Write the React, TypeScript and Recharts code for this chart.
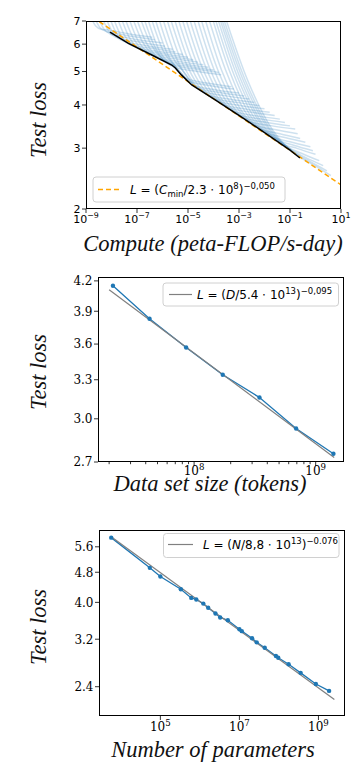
import { LineChart, Line, XAxis, YAxis } from 'recharts'

// ---- top panel: learning curves vs compute ----
const runCompute = [
  [1e-9, 2.4e-9, 3.9e-9, 6.3e-9, 5e-8, 4e-7],
  [1.4e-9, 3.5e-9, 6.3e-9, 1e-8, 7.9e-8, 5e-7],
  [2e-9, 5.1e-9, 8.9e-9, 1.6e-8, 1.26e-7, 1e-6],
  [2.8e-9, 7.6e-9, 1.38e-8, 2.5e-8, 2e-7, 1.26e-6],
  [4e-9, 1.1e-8, 2.1e-8, 4e-8, 3.2e-7, 2.5e-6],
  [5.6e-9, 1.6e-8, 3.2e-8, 6.3e-8, 5e-7, 3.2e-6],
  [7.9e-9, 2.3e-8, 4.8e-8, 1e-7, 7.9e-7, 6.3e-6],
  [1.12e-8, 3.4e-8, 7.4e-8, 1.6e-7, 1.26e-6, 1e-5],
  [1.6e-8, 5e-8, 1.1e-7, 2.5e-7, 2e-6, 1.6e-5],
  [2.2e-8, 7.4e-8, 1.7e-7, 4e-7, 3.2e-6, 2.5e-5],
  [3.2e-8, 1.07e-7, 2.6e-7, 6.3e-7, 5e-6, 4e-5],
  [4.5e-8, 1.6e-7, 4e-7, 1e-6, 7.9e-6, 6.3e-5],
  [6.3e-8, 2.3e-7, 6e-7, 1.6e-6, 1.26e-5, 1e-4],
  [8.9e-8, 3.5e-7, 1e-6, 2.5e-6, 2e-5, 1.6e-4],
  [1.26e-7, 4.6e-7, 1.2e-6, 3.2e-6, 2.5e-5, 2e-4],
  [1.8e-7, 7.9e-7, 2.8e-6, 7.9e-6, 6.3e-5, 5e-4],
  [2.5e-7, 1.05e-6, 3.55e-6, 6.3e-6, 1e-5, 7.9e-5, 6.3e-4],
  [3.5e-7, 1.6e-6, 5e-6, 1.6e-5, 1.26e-4, 1e-3],
  [5e-7, 2.2e-6, 7.4e-6, 2.5e-5, 2e-4, 1.6e-3],
  [7.1e-7, 3.2e-6, 1.12e-5, 4e-5, 3.2e-4, 2.5e-3],
  [1e-6, 4.8e-6, 1.74e-5, 6.3e-5, 5e-4, 4e-3],
  [1.4e-6, 7.1e-6, 2.6e-5, 1e-4, 7.9e-4, 6.3e-3],
  [2e-6, 1.02e-5, 4e-5, 1.6e-4, 1.26e-3, 1e-2],
  [2.8e-6, 1.5e-5, 6.3e-5, 2.5e-4, 2e-3, 1.6e-2],
  [4e-6, 2.2e-5, 9.3e-5, 4e-4, 3.2e-3, 2.5e-2],
  [5.6e-6, 3.2e-5, 1.4e-4, 6.3e-4, 5e-3, 4e-2],
  [7.9e-6, 4.7e-5, 2.1e-4, 1e-3, 7.9e-3, 6.3e-2],
  [1.12e-5, 6.8e-5, 3.3e-4, 1.6e-3, 1.26e-2, 1e-1],
  [1.6e-5, 1e-4, 5e-4, 2.5e-3, 2e-2, 1.6e-1],
  [2.2e-5, 1.45e-4, 7.9e-4, 4e-3, 2.8e-2, 2e-1],
  [3.2e-5, 2.1e-4, 1.17e-3, 6.3e-3, 4e-2, 2.5e-1],
  [4.5e-5, 3.2e-4, 1.8e-3, 1e-2, 6.3e-2, 4e-1],
  [6.3e-5, 4.6e-4, 2.7e-3, 1.6e-2, 1e-1, 6.3e-1],
  [7.9e-5, 6.3e-4, 4e-3, 2.5e-2, 1.4e-1, 7.9e-1],
  [1e-4, 8.3e-4, 5.8e-3, 4e-2, 2e-1, 1],
  [1.2e-4, 1.07e-3, 7.9e-3, 6e-2, 2.8e-1, 1.4],
  [1.4e-4, 1.35e-3, 1.1e-2, 8.9e-2, 4e-1, 2],
  [1.66e-4, 1.7e-3, 1.5e-2, 1.32e-1, 6.3e-1, 2.8],
  [2e-4, 2.2e-3, 2.1e-2, 2e-1, 1, 4],
]
const runLoss = [
  [7.8, 6.77, 6.63, 6.6, 6.42, 6.28],
  [7.8, 6.7, 6.53, 6.48, 6.3, 6.18],
  [7.8, 6.63, 6.42, 6.35, 6.17, 6.05],
  [7.8, 6.56, 6.3, 6.22, 6.05, 5.92],
  [7.8, 6.49, 6.19, 6.09, 5.92, 5.8],
  [7.8, 6.43, 6.1, 5.98, 5.82, 5.7],
  [7.8, 6.37, 6.01, 5.88, 5.71, 5.6],
  [7.8, 6.32, 5.92, 5.78, 5.62, 5.5],
  [7.8, 6.27, 5.84, 5.69, 5.53, 5.41],
  [7.8, 6.21, 5.76, 5.59, 5.44, 5.32],
  [7.8, 6.16, 5.68, 5.5, 5.34, 5.23],
  [7.8, 6.11, 5.6, 5.4, 5.25, 5.14],
  [7.8, 6.06, 5.51, 5.31, 5.16, 5.05],
  [7.8, 6.0, 5.43, 5.22, 5.08, 4.97],
  [7.8, 5.97, 5.36, 5.14, 5.0, 4.89],
  [7.8, 5.7, 5.16, 4.79, 4.62, 4.52],
  [7.8, 5.75, 5.12, 4.88, 4.7, 4.55, 4.45],
  [7.8, 5.6, 4.98, 4.57, 4.42, 4.33],
  [7.8, 5.6, 4.95, 4.47, 4.34, 4.25],
  [7.8, 5.55, 4.72, 4.38, 4.25, 4.16],
  [7.8, 5.49, 4.62, 4.28, 4.15, 4.07],
  [7.8, 5.44, 4.54, 4.19, 4.07, 3.98],
  [7.8, 5.39, 4.46, 4.1, 3.98, 3.9],
  [7.8, 5.35, 4.38, 4.01, 3.89, 3.81],
  [7.8, 5.3, 4.31, 3.93, 3.81, 3.73],
  [7.8, 5.25, 4.23, 3.84, 3.72, 3.64],
  [7.8, 5.2, 4.16, 3.75, 3.64, 3.56],
  [7.8, 5.15, 4.08, 3.67, 3.56, 3.48],
  [7.8, 5.11, 4.02, 3.59, 3.48, 3.41],
  [7.8, 5.07, 3.95, 3.51, 3.39, 3.3],
  [7.8, 5.03, 3.88, 3.43, 3.3, 3.2],
  [7.8, 4.98, 3.81, 3.35, 3.22, 3.12],
  [7.8, 4.94, 3.74, 3.27, 3.13, 3.03],
  [7.8, 4.9, 3.67, 3.2, 3.06, 2.95],
  [7.8, 4.86, 3.61, 3.12, 2.99, 2.88],
  [7.8, 4.82, 3.55, 3.06, 2.9, 2.76],
  [7.8, 4.79, 3.5, 3.0, 2.82, 2.67],
  [7.8, 4.75, 3.44, 2.93, 2.74, 2.58],
  [7.8, 4.71, 3.38, 2.86, 2.66, 2.5],
]
const frontierCompute = [8.7e-9, 4.6e-8, 3.8e-7, 2.3e-6, 3.2e-6, 5.6e-6, 1.4e-5, 1.05e-4, 1.5e-3, 1.7e-2, 1e-1, 2.45e-1]
const frontierLoss = [6.5, 6.03, 5.58, 5.22, 5.12, 4.88, 4.57, 4.16, 3.66, 3.24, 2.96, 2.81]
const computeFitX = [1e-9, 10]
const computeFitY = [7.4, 2.35]
const computeTicks = [1e-9, 1e-7, 1e-5, 1e-3, 1e-1, 10]
const computeLossTicks = [2, 3, 4, 5, 6, 7]

// ---- middle panel: data set size ----
const dataTokens = [2.15e7, 4.3e7, 8.6e7, 1.72e8, 3.45e8, 6.9e8, 1.4e9]
const dataLoss = [4.15, 3.83, 3.57, 3.34, 3.16, 2.93, 2.755]
const dataFitX = [2.0e7, 1.42e9]
const dataFitY = [4.11, 2.73]
const tokenMajor = [1e8, 1e9]
const tokenMinor = [2e7, 3e7, 4e7, 5e7, 6e7, 7e7, 8e7, 9e7, 2e8, 3e8, 4e8, 5e8, 6e8, 7e8, 8e8, 9e8]
const tokenLossTicks = [2.7, 3.0, 3.3, 3.6, 3.9, 4.2]

// ---- bottom panel: parameters ----
const paramCount = [5.7e3, 5.4e4, 1e5, 3.3e5, 6.05e5, 8.1e5, 1.22e6, 1.62e6, 2.48e6, 3.26e6, 5.1e6, 1e7, 1.15e7, 2.09e7, 2.74e7, 4.37e7, 8.4e7, 9.6e7, 1.76e8, 3.54e8, 8.6e8, 1.86e9]
const paramLoss = [5.92, 4.93, 4.68, 4.33, 4.11, 4.07, 3.97, 3.87, 3.74, 3.65, 3.59, 3.4, 3.36, 3.22, 3.14, 3.04, 2.89, 2.86, 2.75, 2.61, 2.44, 2.34]
const paramFitX = [5.7e3, 2.53e9]
const paramFitY = [5.95, 2.22]
const paramTicks = [1e5, 1e7, 1e9]
const paramLossTicks = [2.4, 3.2, 4.0, 4.8, 5.6]

const BLUE = '#1f77b4'
const SANS = 'DejaVu Sans'
const SERIF = 'DejaVu Serif'
const TITLE = 'Liberation Serif'

const zip = (xs: number[], ys: number[]) => xs.map((x, i) => ({ x, y: ys[i] }))

const expLabel = (v: number) => {
  const e = Math.round(Math.log10(v))
  return e < 0 ? `\u2212${-e}` : `${e}`
}

// x tick: short outward mark, "10^n" label on major ticks only
function LogXTick({ x, y, payload, majors, font, size, off }: any) {
  const v = payload.value
  const major = majors.some((m: number) => Math.abs(m / v - 1) < 1e-6)
  return (
    <g>
      <line x1={x} y1={y} x2={x} y2={y + (major ? 4 : 2.2)} stroke="#000" strokeWidth={0.8} />
      {major && (
        <text x={x} y={y + off} textAnchor="middle" fontFamily={font} fontSize={size} fill="#000">
          10<tspan dy={-5} fontSize={size * 0.72}>{expLabel(v)}</tspan>
        </text>
      )}
    </g>
  )
}

function LossTick({ x, y, payload, font, size, digits }: any) {
  return (
    <g>
      <line x1={x - 4} y1={y} x2={x} y2={y} stroke="#000" strokeWidth={0.8} />
      <text x={x - 5.5} y={y} dy="0.36em" textAnchor="end" fontFamily={font} fontSize={size} fill="#000">
        {payload.value.toFixed(digits)}
      </text>
    </g>
  )
}

function ComputePanel() {
  return (
    <LineChart width={363} height={260} margin={{ top: 21, right: 22, bottom: 21, left: 0 }}>
      <XAxis
        type="number" dataKey="x" scale="log" domain={[1e-9, 10]} allowDataOverflow
        ticks={computeTicks} interval={0} height={30} axisLine={false} tickLine={false} tickSize={0} tickMargin={0}
        tick={(p: any) => <LogXTick {...p} majors={computeTicks} font={SANS} size={11} off={13.5} />}
      />
      <YAxis
        type="number" dataKey="y" scale="log" domain={[2, 7]} allowDataOverflow
        ticks={computeLossTicks} interval={0} width={86} axisLine={false} tickLine={false} tickSize={0} tickMargin={0}
        tick={(p: any) => <LossTick {...p} font={SANS} size={11} digits={0} />}
      />
      {runCompute.map((c, i) => (
        <Line
          key={i} data={zip(c, runLoss[i])} dataKey="y" type="monotone"
          stroke={BLUE} strokeOpacity={0.22} strokeWidth={1.5} dot={false} activeDot={false}
          isAnimationActive={false}
        />
      ))}
      <Line
        data={zip(computeFitX, computeFitY)} dataKey="y" type="linear" stroke="#ffa500"
        strokeWidth={1.5} strokeDasharray="5 3" dot={false} activeDot={false} isAnimationActive={false}
      />
      <Line
        data={zip(frontierCompute, frontierLoss)} dataKey="y" type="linear" stroke="#000"
        strokeWidth={1.5} dot={false} activeDot={false} isAnimationActive={false}
      />
    </LineChart>
  )
}

function DataPanel() {
  return (
    <LineChart width={363} height={250} margin={{ top: 17, right: 19, bottom: 18, left: 0 }}>
      <XAxis
        type="number" dataKey="x" scale="log" domain={[1.62e7, 1.71e9]} allowDataOverflow
        ticks={[...tokenMinor, ...tokenMajor].sort((a, b) => a - b)} interval={0} height={30}
        axisLine={false} tickLine={false} tickSize={0} tickMargin={0}
        tick={(p: any) => <LogXTick {...p} majors={tokenMajor} font={SERIF} size={12} off={13} />}
      />
      <YAxis
        type="number" dataKey="y" scale="log" domain={[2.7, 4.24]} allowDataOverflow
        ticks={tokenLossTicks} interval={0} width={98} axisLine={false} tickLine={false} tickSize={0} tickMargin={0}
        tick={(p: any) => <LossTick {...p} font={SERIF} size={12} digits={1} />}
      />
      <Line
        data={zip(dataTokens, dataLoss)} dataKey="y" type="linear" stroke={BLUE} strokeWidth={1.3}
        dot={{ r: 2.2, fill: BLUE, stroke: BLUE, strokeWidth: 0 }} activeDot={false} isAnimationActive={false}
      />
      <Line
        data={zip(dataFitX, dataFitY)} dataKey="y" type="linear" stroke="#808080" strokeWidth={1.2}
        dot={false} activeDot={false} isAnimationActive={false}
      />
    </LineChart>
  )
}

function ParamPanel() {
  return (
    <LineChart width={363} height={262} margin={{ top: 20, right: 18, bottom: 26, left: 0 }}>
      <XAxis
        type="number" dataKey="x" scale="log" domain={[2.8e3, 4.7e9]} allowDataOverflow
        ticks={paramTicks} interval={0} height={30} axisLine={false} tickLine={false} tickSize={0} tickMargin={0}
        tick={(p: any) => <LogXTick {...p} majors={paramTicks} font={SERIF} size={12} off={15} />}
      />
      <YAxis
        type="number" dataKey="y" scale="log" domain={[2.01, 6.2]} allowDataOverflow
        ticks={paramLossTicks} interval={0} width={99} axisLine={false} tickLine={false} tickSize={0} tickMargin={0}
        tick={(p: any) => <LossTick {...p} font={SERIF} size={12} digits={1} />}
      />
      <Line
        data={zip(paramCount, paramLoss)} dataKey="y" type="linear" stroke={BLUE} strokeWidth={1.3}
        dot={{ r: 2.2, fill: BLUE, stroke: BLUE, strokeWidth: 0 }} activeDot={false} isAnimationActive={false}
      />
      <Line
        data={zip(paramFitX, paramFitY)} dataKey="y" type="linear" stroke="#808080" strokeWidth={1.2}
        dot={false} activeDot={false} isAnimationActive={false}
      />
    </LineChart>
  )
}

// frames, legends and axis titles drawn on top
function Overlay() {
  const title = { fontFamily: TITLE, fontStyle: 'italic', fontSize: 22.5, fill: '#111' } as const
  const leg = { fontFamily: SANS, fontSize: 12, fill: '#000' } as const
  const box = { fill: '#fff', fillOpacity: 0.8, stroke: '#d0d0d0', strokeWidth: 1 }
  return (
    <svg width={363} height={772} style={{ position: 'absolute', left: 0, top: 0, pointerEvents: 'none' }}>
      <rect x={86.5} y={21.5} width={254} height={187} fill="none" stroke="#000" strokeWidth={1} />
      <rect x={98.5} y={277.5} width={245} height={184} fill="none" stroke="#000" strokeWidth={1} />
      <rect x={99.5} y={530.5} width={245} height={185} fill="none" stroke="#000" strokeWidth={1} />

      <rect x={93} y={177} width={192} height={25} rx={3} {...box} />
      <line x1={98} y1={189.5} x2={120} y2={189.5} stroke="#ffa500" strokeWidth={1.5} strokeDasharray="5 3" />
      <text x={130} y={194} {...leg}>
        <tspan fontStyle="italic">L</tspan> = (<tspan fontStyle="italic">C</tspan>
        <tspan fontSize={8.5} dy={2.5}>min</tspan>
        <tspan dy={-2.5}>/2.3 ⋅ 10</tspan>
        <tspan fontSize={8.5} dy={-5}>8</tspan>
        <tspan dy={5}>)</tspan>
        <tspan fontSize={8.5} dy={-5}>−0,050</tspan>
      </text>

      <rect x={163} y={283} width={175.5} height={23} rx={3} {...box} />
      <line x1={169} y1={294.5} x2={192} y2={294.5} stroke="#808080" strokeWidth={1.2} />
      <text x={197} y={298.5} {...leg}>
        <tspan fontStyle="italic">L</tspan> = (<tspan fontStyle="italic">D</tspan>/5.4 ⋅ 10
        <tspan fontSize={8.5} dy={-5}>13</tspan>
        <tspan dy={5}>)</tspan>
        <tspan fontSize={8.5} dy={-5}>−0,095</tspan>
      </text>

      <rect x={163.5} y={533.5} width={175.5} height={24} rx={3} {...box} />
      <line x1={168} y1={544.5} x2={193} y2={544.5} stroke="#808080" strokeWidth={1.2} />
      <text x={203} y={549} {...leg}>
        <tspan fontStyle="italic">L</tspan> = (<tspan fontStyle="italic">N</tspan>/8,8 ⋅ 10
        <tspan fontSize={8.5} dy={-5}>13</tspan>
        <tspan dy={5}>)</tspan>
        <tspan fontSize={8.5} dy={-5}>−0.076</tspan>
      </text>

      <text x={213} y={251} textAnchor="middle" {...title}>Compute (peta-FLOP/s-day)</text>
      <text transform="translate(46,120) rotate(-90)" textAnchor="middle" {...title}>Test loss</text>
      <text x={210} y={491} textAnchor="middle" {...title}>Data set size (tokens)</text>
      <text transform="translate(46,372) rotate(-90)" textAnchor="middle" {...title}>Test loss</text>
      <text x={213} y={756.5} textAnchor="middle" {...title}>Number of parameters</text>
      <text transform="translate(46,627) rotate(-90)" textAnchor="middle" {...title}>Test loss</text>
    </svg>
  )
}

export default function App() {
  return (
    <div style={{ position: 'absolute', left: 0, top: 0, width: 363, height: 772, background: '#fff' }}>
      <div style={{ position: 'absolute', left: 0, top: 0 }}>
        <ComputePanel />
      </div>
      <div style={{ position: 'absolute', left: 0, top: 260 }}>
        <DataPanel />
      </div>
      <div style={{ position: 'absolute', left: 0, top: 510 }}>
        <ParamPanel />
      </div>
      <Overlay />
    </div>
  )
}
